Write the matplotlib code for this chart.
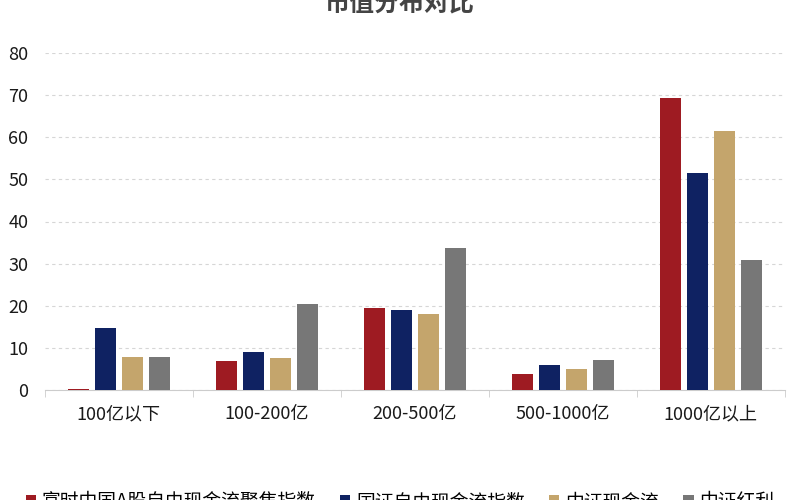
import numpy as np
import matplotlib.pyplot as plt

plt.rcParams["font.family"] = ["Noto Sans CJK SC", "DejaVu Sans"]

categories = ["100亿以下", "100-200亿", "200-500亿", "500-1000亿", "1000亿以上"]
series_names = ["富时中国A股自由现金流聚焦指数", "国证自由现金流指数", "中证现金流", "中证红利"]
ftse_fcf = [0.3, 6.9, 19.5, 3.9, 69.3]
cn_fcf = [14.7, 9.1, 19.0, 5.9, 51.6]
csi_cf = [7.9, 7.6, 18.0, 5.1, 61.4]
csi_div = [7.9, 20.3, 33.7, 7.2, 30.9]
yticks = [0, 10, 20, 30, 40, 50, 60, 70, 80]

colors = ["#9E1B22", "#0F2262", "#C4A56C", "#777777"]
series = [ftse_fcf, cn_fcf, csi_cf, csi_div]

fig = plt.figure(figsize=(8, 5), dpi=100)
ax = fig.add_axes([0.056, 0.22, 0.925, 0.674])

x = np.arange(len(categories))
width = 0.142
pitch = 0.182
for i, (vals, name, c) in enumerate(zip(series, series_names, colors)):
    ax.bar(x + (i - 1.5) * pitch, vals, width=width, color=c, label=name, zorder=3)

ax.set_xlim(-0.5, len(categories) - 0.5)
ax.set_ylim(0, 80)
ax.set_yticks(yticks)
ax.set_xticks(x)
ax.set_xticklabels(categories, fontsize=13)
ax.tick_params(axis="y", length=0, labelsize=13, pad=12)
ax.tick_params(axis="x", length=0, pad=11)
ax.set_xticks(np.arange(len(categories) + 1) - 0.5, minor=True)
ax.tick_params(axis="x", which="minor", length=5, color="#cccccc")

for s in ["left", "right", "top"]:
    ax.spines[s].set_visible(False)
ax.spines["bottom"].set_color("#cccccc")
ax.grid(axis="y", linestyle=(0, (3, 3)), color="#d6d6d6", lw=0.8, zorder=0)
for t in ax.get_yticklabels() + ax.get_xticklabels():
    t.set_color("#1a1a1a")

fig.text(0.5, 0.968, "市值分布对比", ha="center", va="bottom",
         fontsize=18, fontweight="bold", color="#444444")

fig.legend(loc="lower center", bbox_to_anchor=(0.5, -0.058), ncol=4,
           frameon=False, fontsize=13.5, handlelength=0.55, handleheight=0.55,
           handletextpad=0.3, columnspacing=1.3)

fig.savefig("out.png", dpi=100)
